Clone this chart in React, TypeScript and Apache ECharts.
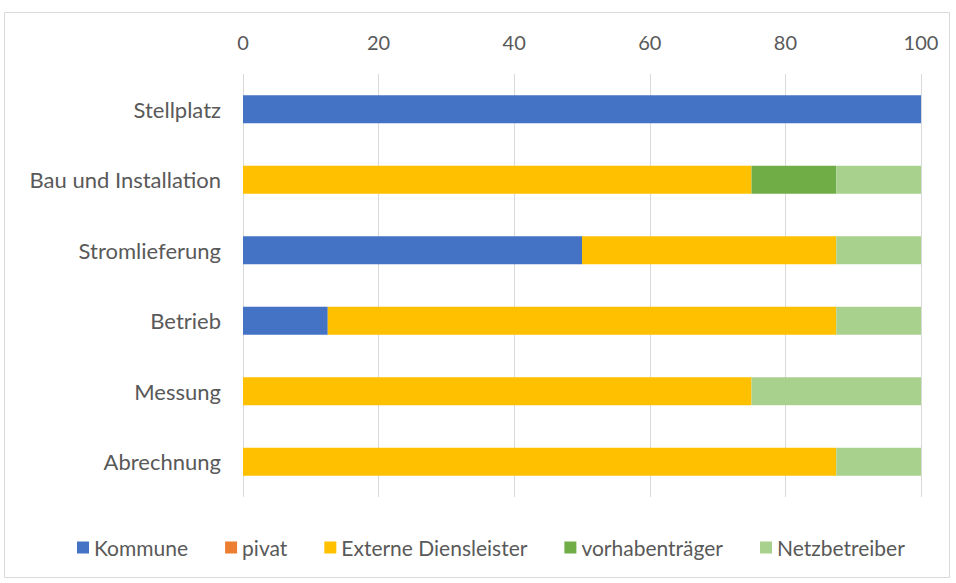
import React, { useEffect, useRef } from "react";
import * as echarts from "echarts";

const categories = ["Stellplatz", "Bau und Installation", "Stromlieferung", "Betrieb", "Messung", "Abrechnung"];
const kommune = [100, 0, 50, 12.5, 0, 0];
const pivat = [0, 0, 0, 0, 0, 0];
const externe = [0, 75, 37.5, 75, 75, 87.5];
const vorhaben = [0, 12.5, 0, 0, 0, 0];
const netz = [0, 12.5, 12.5, 12.5, 25, 12.5];
const xTicks = [0, 20, 40, 60, 80, 100];

const seriesNames = ["Kommune", "pivat", "Externe Diensleister", "vorhabenträger", "Netzbetreiber"];
const seriesData = [kommune, pivat, externe, vorhaben, netz];
const colors = ["#4472C4", "#ED7D31", "#FFC000", "#70AD47", "#A9D18E"];

const FONT = "Lato";

export default function App() {
  const ref = useRef<HTMLDivElement>(null);
  useEffect(() => {
    document.body.style.margin = "0";
    const chart = echarts.init(ref.current!, null, { renderer: "svg" });
    chart.setOption({
      animation: false,
      backgroundColor: "#ffffff",
      textStyle: { fontFamily: FONT },
      graphic: [
        {
          type: "rect",
          shape: { x: 4.5, y: 12.5, width: 945, height: 565 },
          style: { fill: "none", stroke: "#D9D9D9", lineWidth: 1 },
          silent: true,
        },
      ],
      grid: { left: 243, right: 35, top: 74, bottom: 86, containLabel: false },
      xAxis: {
        type: "value",
        position: "top",
        min: 0,
        max: 100,
        interval: 20,
        axisLine: { show: false },
        axisTick: { show: false },
        axisLabel: {
          color: "#595959",
          fontSize: 20,
          fontFamily: FONT,
          margin: 22,
          formatter: (v: number) => (xTicks.includes(v) ? String(v) : ""),
        },
        splitLine: { show: true, lineStyle: { color: "#D9D9D9", width: 1 } },
      },
      yAxis: {
        type: "category",
        inverse: true,
        data: categories,
        axisLine: { show: false },
        axisTick: { show: false },
        axisLabel: { color: "#595959", fontSize: 22, fontFamily: FONT, margin: 22 },
      },
      legend: {
        bottom: 20,
        left: 72,
        itemWidth: 12,
        itemHeight: 12,
        itemGap: 37,
        icon: "rect",
        textStyle: { color: "#595959", fontSize: 21, fontFamily: FONT },
        data: seriesNames,
      },
      series: seriesNames.map((name, i) => ({
        name,
        type: "bar",
        stack: "total",
        barWidth: "40%",
        data: seriesData[i],
        itemStyle: { color: colors[i] },
      })),
    });
    return () => chart.dispose();
  }, []);
  return <div ref={ref} style={{ width: 956, height: 583 }} />;
}
